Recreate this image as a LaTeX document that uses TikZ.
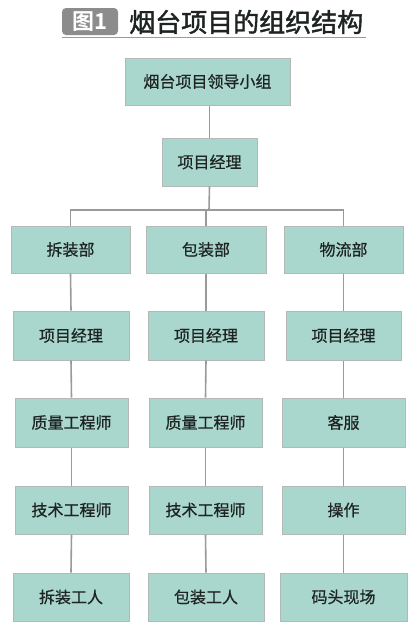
\documentclass[tikz,border=0pt]{standalone}
\usepackage{fontspec}
\newfontfamily\cjk[FakeBold=0.6]{Noto Sans CJK SC}
\newfontfamily\cjkt[FakeBold=1.6]{Noto Sans CJK SC}
\newfontfamily\cjkb{Noto Sans CJK SC Bold}
\definecolor{boxfill}{HTML}{A9D6CD}
\definecolor{boxline}{HTML}{B4B8B6}
\definecolor{conn}{HTML}{9A9A9A}
\definecolor{badge}{HTML}{8C8C8C}
\definecolor{txt}{HTML}{1E2422}
\begin{document}
\begin{tikzpicture}[x=1pt,y=-1pt,
  orgbox/.style={draw=boxline, line width=1pt, fill=boxfill, text=txt, inner sep=0pt,
    font=\cjk\fontsize{16}{18}\selectfont, minimum height=48pt},
  conline/.style={draw=conn, line width=1.6pt}]
\useasboundingbox (0,0) rectangle (416,632);
% title
\node[fill=badge, rounded corners=4pt, minimum width=56pt, minimum height=27pt, inner sep=0pt,
  text=white, font=\cjkb\fontsize{22}{24}\selectfont] (badge) at (90,21.5) {图1};
\node[anchor=west, inner sep=0pt, text=txt, font=\cjkt\fontsize{26}{28}\selectfont] (title) at (129,22) {烟台项目的组织结构};
\coordinate (ulA) at (62,37.5);
\coordinate (ulB) at (366,37.5);
\draw[draw=conn, line width=1.4pt] (ulA) -- (ulB);
% top
\node[orgbox, minimum width=165pt, minimum height=47pt] (lead) at (207.5,81.5) {烟台项目领导小组};
\node[orgbox, minimum width=95pt] (pm) at (209.5,162) {项目经理};
% row 1
\node[orgbox, minimum width=119pt, minimum height=47pt] (a1) at (70.5,249.5) {拆装部};
\node[orgbox, minimum width=120pt, minimum height=47pt] (b1) at (206,249.5) {包装部};
\node[orgbox, minimum width=119pt, minimum height=47pt] (c1) at (343.5,249.5) {物流部};
% row 2
\node[orgbox, minimum width=116pt, minimum height=49pt] (a2) at (71,335.5) {项目经理};
\node[orgbox, minimum width=116pt, minimum height=49pt] (b2) at (206,335.5) {项目经理};
\node[orgbox, minimum width=115pt, minimum height=49pt] (c2) at (343.5,335.5) {项目经理};
% row 3
\node[orgbox, minimum width=113pt, minimum height=49pt] (a3) at (71.5,422.5) {质量工程师};
\node[orgbox, minimum width=113pt, minimum height=49pt] (b3) at (205.5,422.5) {质量工程师};
\node[orgbox, minimum width=123pt, minimum height=49pt] (c3) at (343.5,422.5) {客服};
% row 4
\node[orgbox, minimum width=113pt] (a4) at (71.5,510) {技术工程师};
\node[orgbox, minimum width=113pt] (b4) at (205.5,510) {技术工程师};
\node[orgbox, minimum width=123pt] (c4) at (343.5,510) {操作};
% row 5
\node[orgbox, minimum width=116pt] (a5) at (71,597) {拆装工人};
\node[orgbox, minimum width=116pt] (b5) at (206,597) {包装工人};
\node[orgbox, minimum width=127pt] (c5) at (343.5,597) {码头现场};
% connectors
\coordinate (bus) at (209,210);
\draw[conline] (lead.south -| pm.north) -- (pm.north);
\draw[conline] (pm.south) -- (bus);
\draw[conline] (a1.north) |- (bus) -| (c1.north);
\draw[conline] (b1.north) -- (b1.north |- bus);
\foreach \c in {a,b,c}{
  \draw[conline] (\c1.south) -- (\c2.north);
  \draw[conline] (\c2.south) -- (\c3.north);
  \draw[conline] (\c3.south) -- (\c4.north);
  \draw[conline] (\c4.south) -- (\c5.north);
}
\end{tikzpicture}
\end{document}
